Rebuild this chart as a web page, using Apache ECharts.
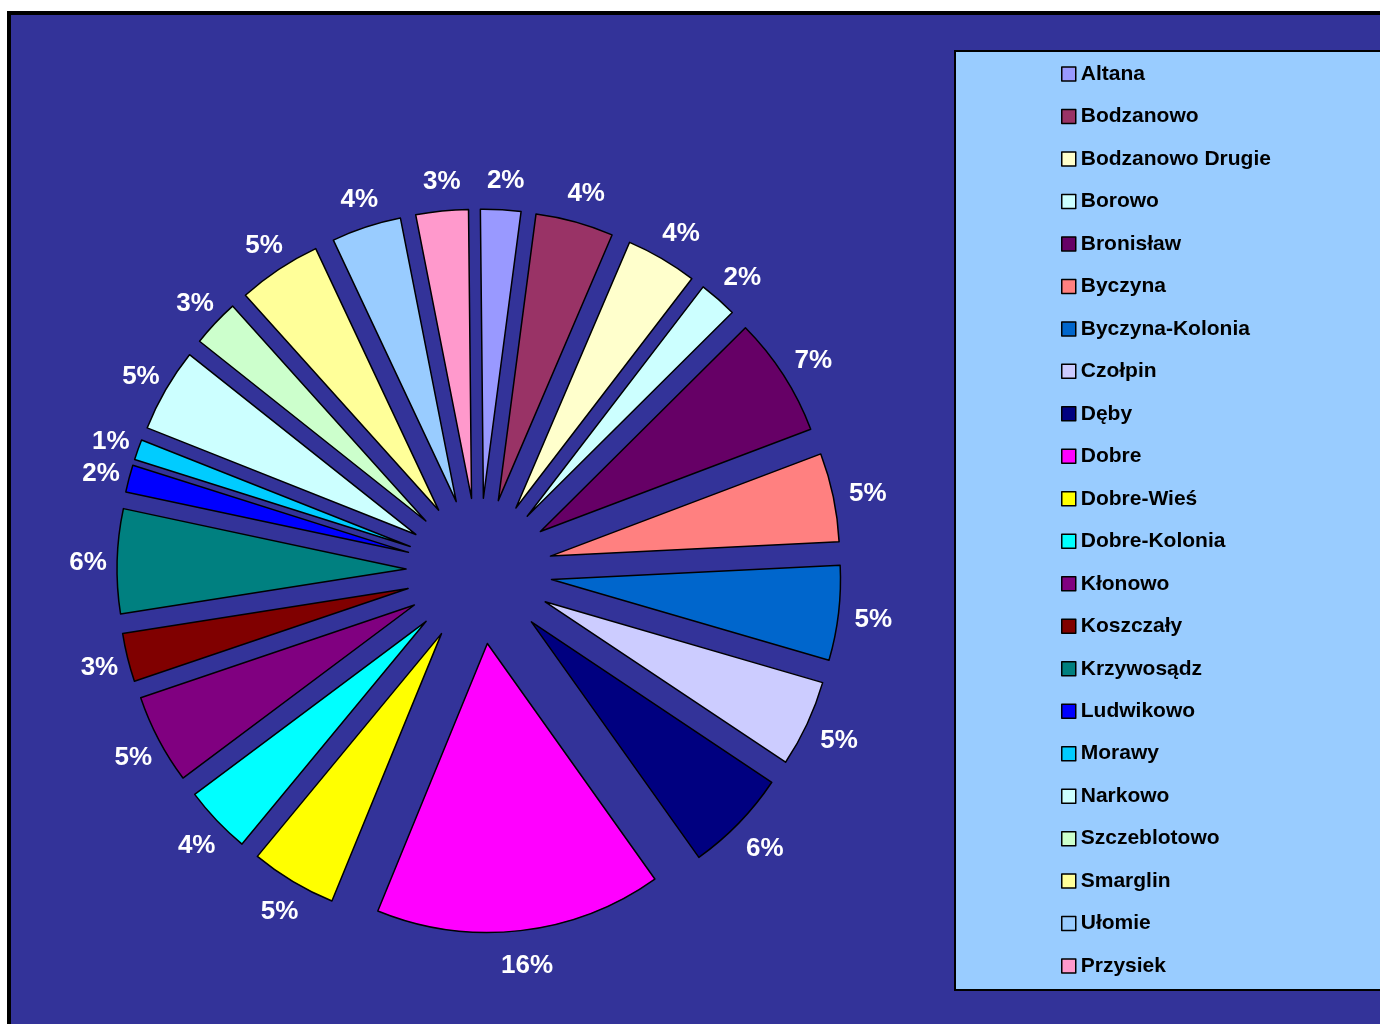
<!DOCTYPE html>
<html>
<head>
<meta charset="utf-8">
<script src="https://cdn.jsdelivr.net/npm/echarts@6/dist/echarts.min.js"></script>
<style>
  html, body { margin: 0; padding: 0; background: #ffffff; overflow: hidden; width: 1380px; height: 1024px; }
  #frame { position: absolute; left: 7px; top: 11px; width: 1400px; height: 1040px; border: 4px solid #000; background: #333399; }
  #chart { position: absolute; left: 0; top: 0; width: 1380px; height: 1024px; }
</style>
</head>
<body>
<div id="frame"></div>
<div id="chart"></div>
<script>
const categories = ['Altana', 'Bodzanowo', 'Bodzanowo Drugie', 'Borowo', 'Bronisław', 'Byczyna',
  'Byczyna-Kolonia', 'Czołpin', 'Dęby', 'Dobre', 'Dobre-Wieś', 'Dobre-Kolonia', 'Kłonowo',
  'Koszczały', 'Krzywosądz', 'Ludwikowo', 'Morawy', 'Narkowo', 'Szczeblotowo', 'Smarglin',
  'Ułomie', 'Przysiek'];
const values = [2.25, 4.36, 3.98, 2.14, 6.70, 4.97, 5.30, 4.86, 5.80, 16.04, 4.81, 3.79, 5.02,
  2.72, 5.84, 1.52, 1.14, 4.68, 2.66, 4.67, 3.90, 2.93];
const colors = ['#9999FF', '#993366', '#FFFFCC', '#CCFFFF', '#660066', '#FF8080',
  '#0066CC', '#CCCCFF', '#000080', '#FF00FF', '#FFFF00', '#00FFFF', '#800080',
  '#800000', '#008080', '#0000FF', '#00CCFF', '#CCFFFF', '#CCFFCC', '#FFFF99',
  '#99CCFF', '#FF99CC'];

const chart = echarts.init(document.getElementById('chart'), null, { renderer: 'canvas' });
const center = [479, 571];
const labelCenter = [482, 574];
const startAngle = 90.6;
const font = "'Liberation Sans', Arial, sans-serif";

const option = {
  animation: false,
  backgroundColor: 'transparent',
  legend: {
    orient: 'vertical',
    left: 955,
    top: 51,
    padding: [11, 150, 12, 106],
    backgroundColor: '#99CCFF',
    borderColor: '#000000',
    borderWidth: 2,
    borderRadius: 0,
    icon: 'rect',
    itemWidth: 14,
    itemHeight: 14,
    itemGap: 18.48,
    selectedMode: false,
    itemStyle: { borderColor: '#000000', borderWidth: 1.5 },
    textStyle: { color: '#000000', fontSize: 21, fontWeight: 'bold', fontFamily: font, lineHeight: 24 },
    data: categories
  },
  series: [
    {
      type: 'pie',
      center: center,
      radius: [0, 289],
      startAngle: startAngle,
      clockwise: true,
      selectedMode: 'multiple',
      selectedOffset: 73,
      label: { show: false },
      labelLine: { show: false },
      itemStyle: { borderColor: '#000000', borderWidth: 1.5 },
      emphasis: { disabled: true },
      select: { itemStyle: { borderColor: '#000000', borderWidth: 1.5 } },
      data: categories.map((n, i) => ({
        name: n, value: values[i], selected: true,
        itemStyle: { color: colors[i] }
      }))
    },
    {
      type: 'pie',
      center: labelCenter,
      radius: [377, 405],
      startAngle: startAngle,
      clockwise: true,
      silent: true,
      legendHoverLink: false,
      selectedMode: false,
      itemStyle: { color: 'rgba(0,0,0,0)', borderWidth: 0 },
      emphasis: { disabled: true },
      labelLine: { show: false },
      label: {
        show: true,
        position: 'inside',
        color: '#FFFFFF',
        fontSize: 26,
        fontWeight: 'bold',
        fontFamily: font,
        formatter: p => Math.round(p.percent) + '%'
      },
      data: categories.map((n, i) => ({ name: n, value: values[i] }))
    }
  ]
};
chart.setOption(option);
</script>
</body>
</html>
